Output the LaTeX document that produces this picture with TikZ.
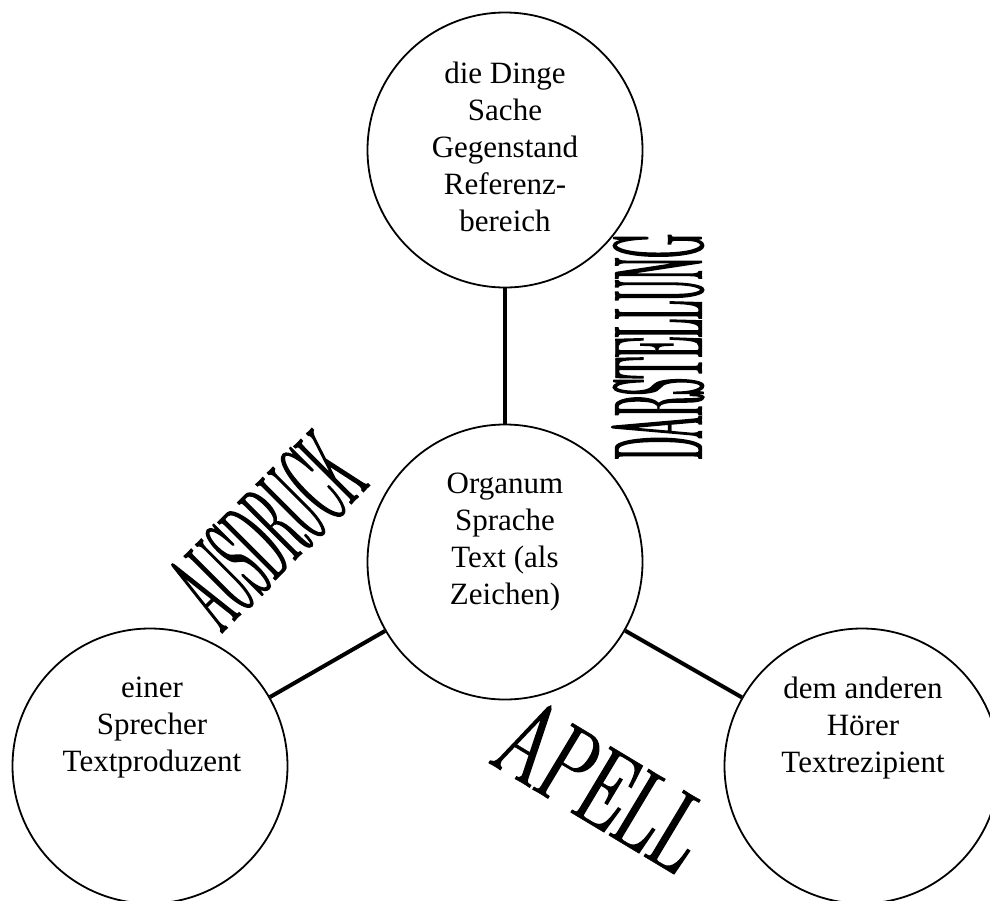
\documentclass[tikz,border=0pt]{standalone}
\usepackage{fontspec}
\setmainfont{Liberation Serif}
\newfontfamily\dfont[FakeStretch=0.0367,FakeBold=0.25]{lmroman17-regular.otf}
\newfontfamily\afont[FakeStretch=0.0483,FakeBold=0.25]{lmroman17-regular.otf}
\newfontfamily\pfont[FakeStretch=0.112,FakeBold=0.4]{lmroman17-regular.otf}
\tikzset{
  disc/.style={circle, draw, line width=1.8pt, minimum size=275pt, inner sep=0pt},
  link/.style={line width=4pt},
  lbl/.style={align=center, font=\fontsize{31}{37}\selectfont, inner sep=0pt},
  art/.style={inner sep=0pt}
}
\begin{document}
\begin{tikzpicture}[x=1pt,y=-1pt]
\useasboundingbox (0,0) rectangle (990,900);
\clip (0,0) rectangle (990,900);
\node[disc] (top) at (505,150) {};
\node[disc] (mid) at (505,562) {};
\node[disc] (left) at (150,766) {};
\node[disc] (right) at (862,766) {};
\draw[link] (top) -- (mid);
\draw[link] (left) -- (mid);
\draw[link] (mid) -- (right);
\node[lbl] (ttop) at (505,146.5) {die Dinge\\Sache\\Gegenstand\\Referenz-\\bereich};
\node[lbl] (tmid) at (505,542) {Organum\\Sprache\\Text (als\\Zeichen)};
\node[lbl] (tleft) at (152,728) {einer\\Sprecher\\Textproduzent};
\node[lbl] (tright) at (863,728) {dem anderen\\Hörer\\Textrezipient};
\node[art, rotate=90] (dar) at (658,347) {\resizebox{225pt}{90pt}{\fontsize{132}{132}\dfont DARSTELLUNG}};
\node[art, rotate=45] (aus) at (267,530) {\resizebox{210pt}{85pt}{\fontsize{124}{124}\afont AUSDRUCK}};
\node[art, rotate=-31] (ap) at (603,785) {\resizebox{220pt}{80pt}{\fontsize{117}{117}\pfont APELL}};
\end{tikzpicture}
\end{document}
